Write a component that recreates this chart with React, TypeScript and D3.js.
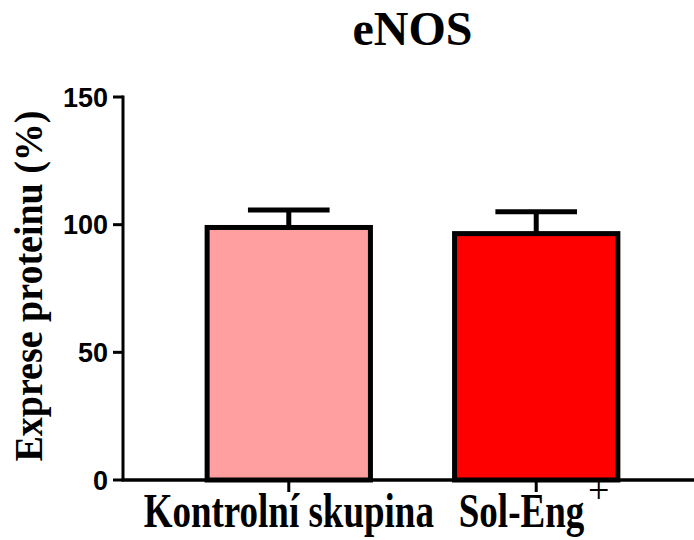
import React from 'react';
import * as d3 from 'd3';

const groups = ['Kontrolní skupina', 'Sol-Eng'];
const means = [98.9, 96.5];
const sems = [6.8, 8.6];
const yTicks = [0, 50, 100, 150];
const fills = ['#FF9F9F', '#FF0000'];

const W = 694;
const H = 540;

const App = () => {
  const x = d3.scaleBand().domain(groups).range([123, 702]).paddingInner(0.34).paddingOuter(0.34);
  const y = d3.scaleLinear().domain([0, 150]).range([480, 97]);
  const serif = '"Liberation Serif", "Times New Roman", serif';
  const sans = '"Liberation Sans", Arial, sans-serif';

  return (
    <div style={{ position: 'absolute', left: 0, top: 0 }}>
      <svg width={W} height={H} style={{ display: 'block', background: '#fff' }}>
        {/* title */}
        <text x={412.5} y={45} textAnchor="middle" fontFamily={serif} fontWeight="bold" fontSize={48}>eNOS</text>

        {/* y axis label */}
        <text transform={`translate(42,${(y(0) + y(150)) / 2 - 2.5}) rotate(-90) scale(1,1.08)`} textAnchor="middle"
          fontFamily={serif} fontWeight="bold" fontSize={38}>Exprese proteinu (%)</text>

        {/* bars */}
        {groups.map((g, i) => {
          const bx = x(g) as number;
          const bw = x.bandwidth();
          const cx = bx + bw / 2;
          return (
            <g key={g}>
              <line x1={cx} x2={cx} y1={y(means[i])} y2={y(means[i] + sems[i])} stroke="#000" strokeWidth={5} />
              <line x1={cx - bw / 4} x2={cx + bw / 4} y1={y(means[i] + sems[i])} y2={y(means[i] + sems[i])}
                stroke="#000" strokeWidth={5} />
              <rect x={bx} y={y(means[i])} width={bw} height={y(0) - y(means[i])}
                fill={fills[i]} stroke="#000" strokeWidth={5} />
            </g>
          );
        })}

        {/* y axis */}
        <line x1={123} x2={123} y1={y(150) - 1.5} y2={y(0)} stroke="#000" strokeWidth={3} />
        {yTicks.map(t => (
          <g key={t}>
            <line x1={113} x2={123} y1={y(t)} y2={y(t)} stroke="#000" strokeWidth={3} />
            <text x={108} y={y(t)} dy="0.36em" textAnchor="end" fontFamily={sans} fontWeight="bold" fontSize={27}>{t}</text>
          </g>
        ))}

        {/* x axis */}
        <line x1={121.5} x2={W} y1={y(0)} y2={y(0)} stroke="#000" strokeWidth={3.5} />
        {groups.map((g, i) => {
          const cx = (x(g) as number) + x.bandwidth() / 2;
          return (
            <g key={g}>
              <line x1={cx} x2={cx} y1={y(0)} y2={y(0) + 12} stroke="#000" strokeWidth={3} />
              <text transform={`translate(${i === 1 ? cx + 48 : cx},527) scale(1,1.3)`}
                textAnchor={i === 1 ? 'end' : 'middle'} fontFamily={serif} fontWeight="bold" fontSize={37}>
                {g}
              </text>
              {i === 1 && (
                <text x={cx + 62.5} y={503} textAnchor="middle" fontFamily={serif} fontSize={38}>+</text>
              )}
            </g>
          );
        })}
      </svg>
    </div>
  );
};

export default App;
